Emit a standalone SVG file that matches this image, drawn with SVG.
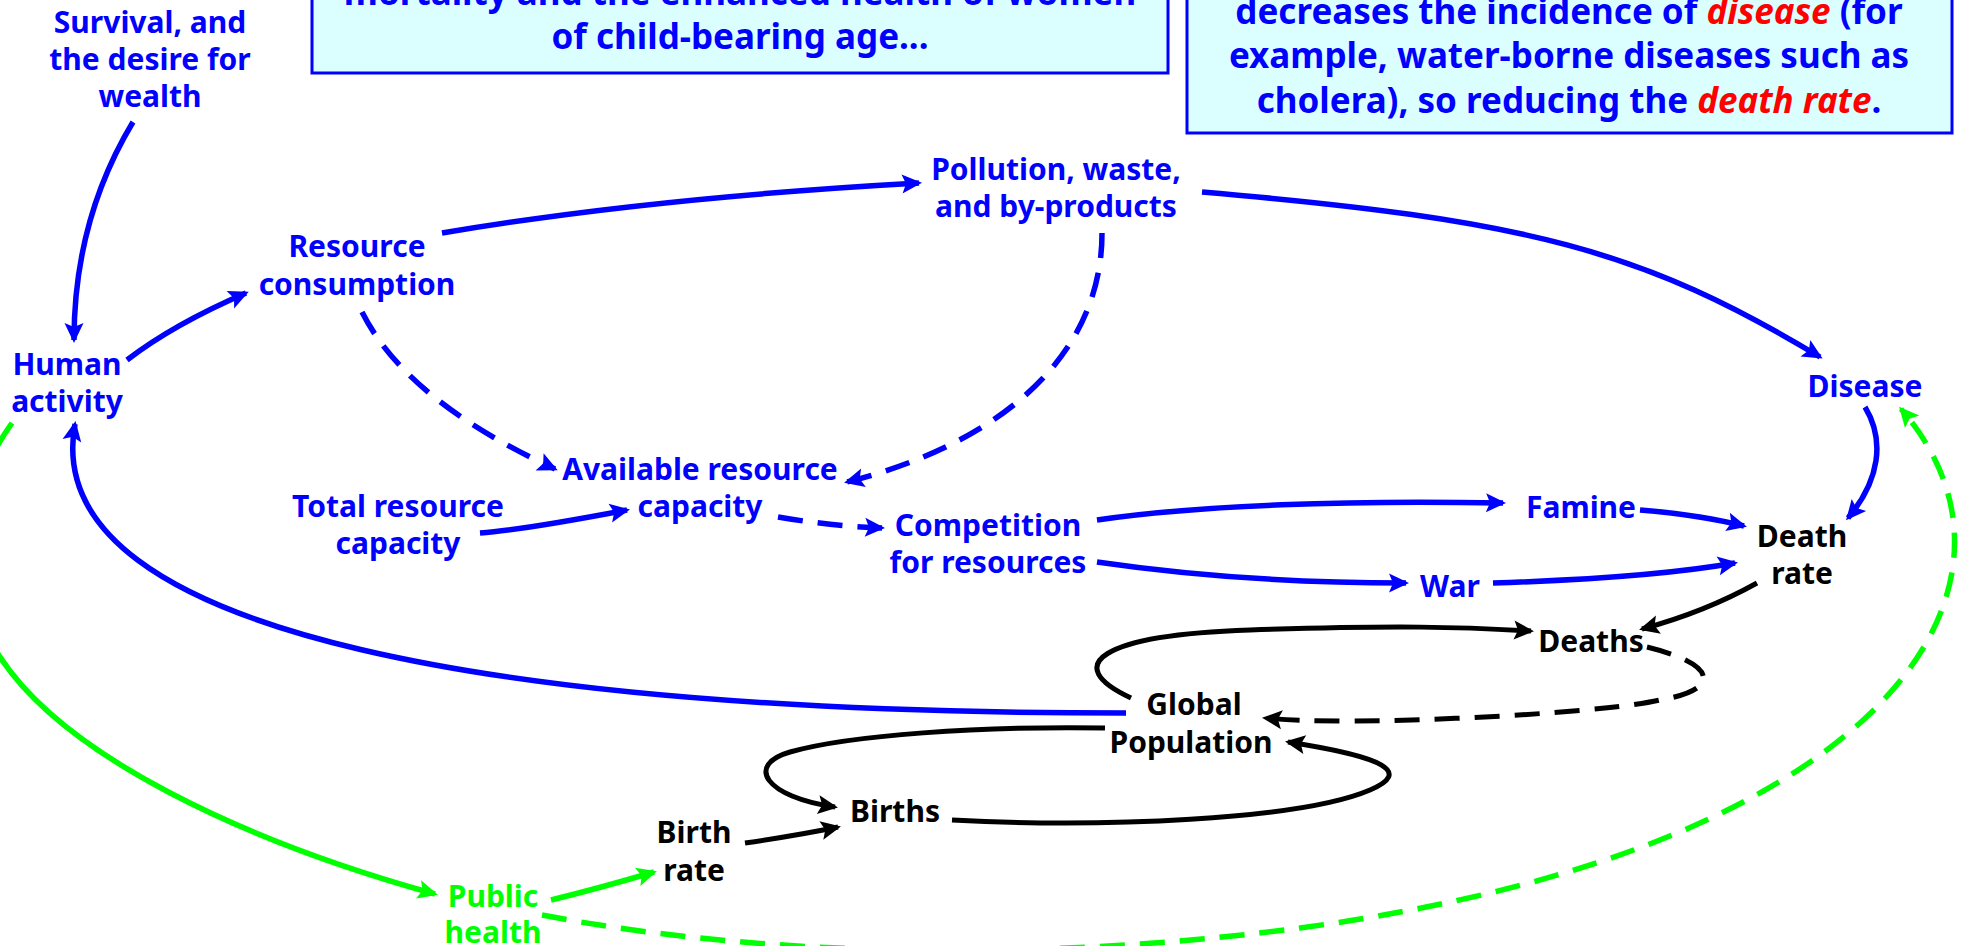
<svg xmlns="http://www.w3.org/2000/svg" width="1968" height="946" viewBox="0 0 1968 946">
  <style>
    .lbl { font-family: "Noto Sans", "DejaVu Sans", sans-serif; font-weight: bold; font-size: 30px; text-anchor: middle; }
    .note { font-family: "Noto Sans", "DejaVu Sans", sans-serif; font-weight: bold; font-size: 35px; text-anchor: middle; fill: #0000ff; }
    .em { fill: #ff0000; font-style: italic; }
    .blue { fill: #0000ff; }
    .black { fill: #000000; }
    .green { fill: #00ff00; }
    .panel { fill: #dbffff; stroke: #0000ff; stroke-width: 3; }
    .c { fill: none; stroke-width: 5.5; stroke-linecap: butt; }
    .cb { stroke: #0000ff; marker-end: url(#ah-blue); }
    .ck { stroke: #000000; stroke-width: 5; marker-end: url(#ah-black); }
    .cg { stroke: #00ff00; marker-end: url(#ah-green); }
    .dash { stroke-dasharray: 25 15; }
  </style>
  <defs>
    <marker id="ah-blue" markerUnits="userSpaceOnUse" viewBox="-22 -11 26 22" markerWidth="26" markerHeight="22" refX="-3" refY="0" orient="auto">
      <path d="M0,0 L-20,-9.5 L-16,0 L-20,9.5 Z" fill="#0000ff"/>
    </marker>
    <marker id="ah-black" markerUnits="userSpaceOnUse" viewBox="-22 -11 26 22" markerWidth="26" markerHeight="22" refX="-3" refY="0" orient="auto">
      <path d="M0,0 L-20,-9.5 L-16,0 L-20,9.5 Z" fill="#000000"/>
    </marker>
    <marker id="ah-green" markerUnits="userSpaceOnUse" viewBox="-22 -11 26 22" markerWidth="26" markerHeight="22" refX="-3" refY="0" orient="auto">
      <path d="M0,0 L-20,-9.5 L-16,0 L-20,9.5 Z" fill="#00ff00"/>
    </marker>
  </defs>

  <rect width="1968" height="946" fill="#ffffff"/>

  <!-- explanatory panels -->
  <g id="note-maternal">
    <rect class="panel" x="312" y="-60" width="856" height="133"/>
    <text class="note" x="740" y="5">mortality and the enhanced health of women</text>
    <text class="note" x="740" y="49">of child-bearing age...</text>
  </g>
  <g id="note-sanitation">
    <rect class="panel" x="1187" y="-60" width="765" height="193"/>
    <text class="note" x="1569" y="24">decreases the incidence of <tspan class="em">disease</tspan> (for</text>
    <text class="note" x="1569" y="68">example, water-borne diseases such as</text>
    <text class="note" x="1569" y="113">cholera), so reducing the <tspan class="em">death rate</tspan>.</text>
  </g>

  <!-- connectors -->
  <g id="connectors">
    <path class="c cb" d="M133,122 Q74,220 74,340"/>
    <path class="c cb" d="M127,360 Q174,324 246,293"/>
    <path class="c cb" d="M442,233 Q649,198 919,183"/>
    <path class="c cb" d="M1202,192 C1529,220 1642,250 1820,357"/>
    <path class="c cb dash" d="M362,312 C402,392 497,442 555,469"/>
    <path class="c cb dash" d="M1102,233 C1102,353 1005,442 847,482"/>
    <path class="c cb" d="M480,533 Q522,530 627,510"/>
    <path class="c cb dash" d="M778,517 Q830,526 882,528"/>
    <path class="c cb" d="M1097,520 C1200,505 1350,500 1503,503"/>
    <path class="c cb" d="M1097,562 C1200,577 1300,583 1406,583"/>
    <path class="c cb" d="M1640,510 Q1700,515 1744,526"/>
    <path class="c cb" d="M1493,583 Q1650,578 1735,563"/>
    <path class="c cb" d="M1865,407 C1885,440 1880,480 1848,518"/>
    <path class="c cb" d="M1126,713 C526,713 35,640 75,424"/>
    <path class="c ck" d="M1757,583 Q1705,612 1642,629"/>
    <path class="c ck" d="M1131,698 C1060,665 1100,635 1250,630 S1460,627 1531,631"/>
    <path class="c ck dash" d="M1647,647 C1720,665 1720,690 1660,700 C1600,714 1350,727 1265,718"/>
    <path class="c ck" d="M1105,728 C980,726 850,735 790,752 C745,765 765,797 835,807"/>
    <path class="c ck" d="M952,820 C1100,828 1300,820 1370,790 C1412,772 1385,757 1288,742"/>
    <path class="c ck" d="M745,843 Q800,835 838,827"/>
    <path class="c cg" d="M12,423 Q-72,542 0,657 C64,755 240,840 435,894"/>
    <path class="c cg" d="M551,900 Q600,888 654,872"/>
    <path class="c cg dash" d="M542,915 C800,965 1100,955 1300,928 C1900,847 2050,580 1901,409"/>
  </g>

  <!-- nodes -->
  <g id="survival">
    <text class="lbl blue" x="150" y="33">Survival, and</text>
    <text class="lbl blue" x="150" y="70">the desire for</text>
    <text class="lbl blue" x="150" y="107">wealth</text>
  </g>
  <g id="human-activity">
    <text class="lbl blue" x="67" y="375">Human</text>
    <text class="lbl blue" x="67" y="412">activity</text>
  </g>
  <g id="resource-consumption">
    <text class="lbl blue" x="357" y="257">Resource</text>
    <text class="lbl blue" x="357" y="295">consumption</text>
  </g>
  <g id="pollution">
    <text class="lbl blue" x="1056" y="180">Pollution, waste,</text>
    <text class="lbl blue" x="1056" y="217">and by-products</text>
  </g>
  <g id="available-capacity">
    <text class="lbl blue" x="700" y="480">Available resource</text>
    <text class="lbl blue" x="700" y="517">capacity</text>
  </g>
  <g id="total-capacity">
    <text class="lbl blue" x="398" y="517">Total resource</text>
    <text class="lbl blue" x="398" y="554">capacity</text>
  </g>
  <g id="competition">
    <text class="lbl blue" x="988" y="536">Competition</text>
    <text class="lbl blue" x="988" y="573">for resources</text>
  </g>
  <g id="famine">
    <text class="lbl blue" x="1581" y="518">Famine</text>
  </g>
  <g id="war">
    <text class="lbl blue" x="1450" y="597">War</text>
  </g>
  <g id="disease">
    <text class="lbl blue" x="1865" y="397">Disease</text>
  </g>
  <g id="death-rate">
    <text class="lbl black" x="1802" y="547">Death</text>
    <text class="lbl black" x="1802" y="584">rate</text>
  </g>
  <g id="deaths">
    <text class="lbl black" x="1591" y="652">Deaths</text>
  </g>
  <g id="global-population">
    <text class="lbl black" x="1194" y="715">Global</text>
    <text class="lbl black" x="1191" y="753">Population</text>
  </g>
  <g id="births">
    <text class="lbl black" x="895" y="822">Births</text>
  </g>
  <g id="birth-rate">
    <text class="lbl black" x="694" y="843">Birth</text>
    <text class="lbl black" x="694" y="881">rate</text>
  </g>
  <g id="public-health">
    <text class="lbl green" x="493" y="907">Public</text>
    <text class="lbl green" x="493" y="943">health</text>
  </g>
</svg>
